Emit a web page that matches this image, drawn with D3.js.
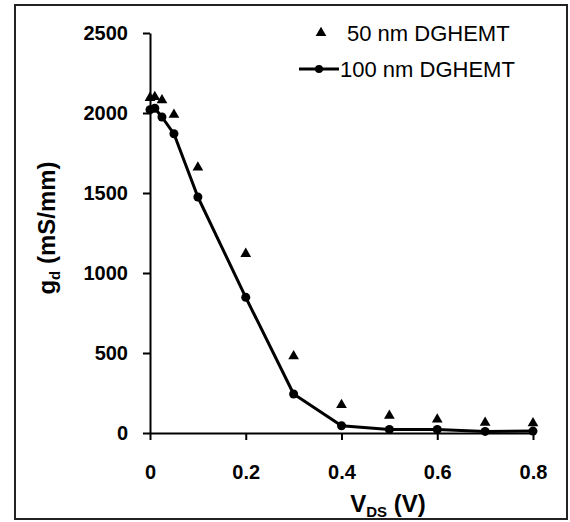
<!DOCTYPE html>
<html>
<head>
<meta charset="utf-8">
<script src="https://cdn.jsdelivr.net/npm/d3@7"></script>
<style>
  body { margin: 0; background: #fff; }
  text { font-family: "Liberation Sans", Arial, sans-serif; }
</style>
</head>
<body>
<script>
var w = 570;
var h = 522;

// V_DS (V)
var vds = [0, 0.01, 0.025, 0.05, 0.1, 0.2, 0.3, 0.4, 0.5, 0.6, 0.7, 0.8];
// gd (mS/mm)
var gd50 = [2095, 2100, 2080, 1990, 1660, 1120, 480, 175, 108, 85, 65, 62];
var gd100 = [2020, 2030, 1975, 1870, 1475, 848, 244, 45, 22, 22, 10, 12];

var xTicks = [0, 0.2, 0.4, 0.6, 0.8];
var xTickLabels = ["0", "0.2", "0.4", "0.6", "0.8"];
var yTicks = [0, 500, 1000, 1500, 2000, 2500];
var yTickLabels = ["0", "500", "1000", "1500", "2000", "2500"];
var seriesNames = ["50 nm DGHEMT", "100 nm DGHEMT"];

var svg = d3.select("body")
    .append("svg")
    .attr("width", w)
    .attr("height", h);

// outer frame
svg.append("rect")
    .attr("x", 15)
    .attr("y", 5)
    .attr("width", 552)
    .attr("height", 514)
    .attr("fill", "none")
    .attr("stroke", "#222")
    .attr("stroke-width", 2);

var x = d3.scaleLinear().domain([0, 0.8]).range([150, 533]);
var y = d3.scaleLinear().domain([0, 2500]).range([433, 33]);

var xAxis = svg.append("g")
    .attr("transform", "translate(0," + y(0) + ")")
    .call(d3.axisBottom(x)
        .tickValues(xTicks)
        .tickFormat(function (d, i) { return xTickLabels[i]; })
        .tickSize(7)
        .tickSizeOuter(0)
        .tickPadding(25));

var yAxis = svg.append("g")
    .attr("transform", "translate(" + x(0) + ",0)")
    .call(d3.axisLeft(y)
        .tickValues(yTicks)
        .tickFormat(function (d, i) { return yTickLabels[i]; })
        .tickSize(7)
        .tickSizeOuter(0)
        .tickPadding(15));

[xAxis, yAxis].forEach(function (g) {
    g.select(".domain").attr("stroke", "#000").attr("stroke-width", 2);
    g.selectAll(".tick line").attr("stroke", "#000").attr("stroke-width", 2);
    g.selectAll(".tick text")
        .attr("fill", "#000")
        .style("font-family", "'Liberation Sans', Arial, sans-serif")
        .style("font-size", "20px")
        .style("font-weight", "bold");
});

// 100 nm line
var line = d3.line()
    .x(function (d, i) { return x(vds[i]); })
    .y(function (d) { return y(d); });

svg.append("path")
    .datum(gd100)
    .attr("d", line)
    .attr("fill", "none")
    .attr("stroke", "#000")
    .attr("stroke-width", 3)
    .attr("stroke-linejoin", "round");

svg.selectAll("circle.gd100")
    .data(gd100)
    .enter()
    .append("circle")
    .attr("class", "gd100")
    .attr("cx", function (d, i) { return x(vds[i]); })
    .attr("cy", function (d) { return y(d); })
    .attr("r", 4.5)
    .attr("fill", "#000");

// 50 nm triangles
var tri = d3.symbol().type(d3.symbolTriangle).size(50);

svg.selectAll("path.gd50")
    .data(gd50)
    .enter()
    .append("path")
    .attr("class", "gd50")
    .attr("d", tri)
    .attr("transform", function (d, i) {
        return "translate(" + x(vds[i]) + "," + y(d) + ")";
    })
    .attr("fill", "#000");

// legend
var legend = svg.append("g");
legend.append("path")
    .attr("d", tri)
    .attr("transform", "translate(321,33)")
    .attr("fill", "#000");
legend.append("text")
    .attr("x", 347)
    .attr("y", 41)
    .style("font-size", "22px")
    .text(seriesNames[0]);
legend.append("line")
    .attr("x1", 299).attr("x2", 339)
    .attr("y1", 69).attr("y2", 69)
    .attr("stroke", "#000")
    .attr("stroke-width", 3);
legend.append("circle")
    .attr("cx", 319).attr("cy", 69)
    .attr("r", 4)
    .attr("fill", "#000");
legend.append("text")
    .attr("x", 340)
    .attr("y", 77)
    .style("font-size", "22px")
    .text(seriesNames[1]);

// axis titles
var xt = svg.append("text")
    .attr("x", 388)
    .attr("y", 512)
    .attr("text-anchor", "middle")
    .style("font-size", "24px")
    .style("font-weight", "bold");
xt.append("tspan").text("V");
xt.append("tspan").attr("dy", 5).style("font-size", "15px").text("DS");
xt.append("tspan").attr("dy", -5).text(" (V)");

var yt = svg.append("text")
    .attr("transform", "translate(55,228) rotate(-90)")
    .attr("text-anchor", "middle")
    .style("font-size", "24px")
    .style("font-weight", "bold");
yt.append("tspan").text("g");
yt.append("tspan").attr("dy", 5).style("font-size", "15px").text("d");
yt.append("tspan").attr("dy", -5).text(" (mS/mm)");
</script>
</body>
</html>
